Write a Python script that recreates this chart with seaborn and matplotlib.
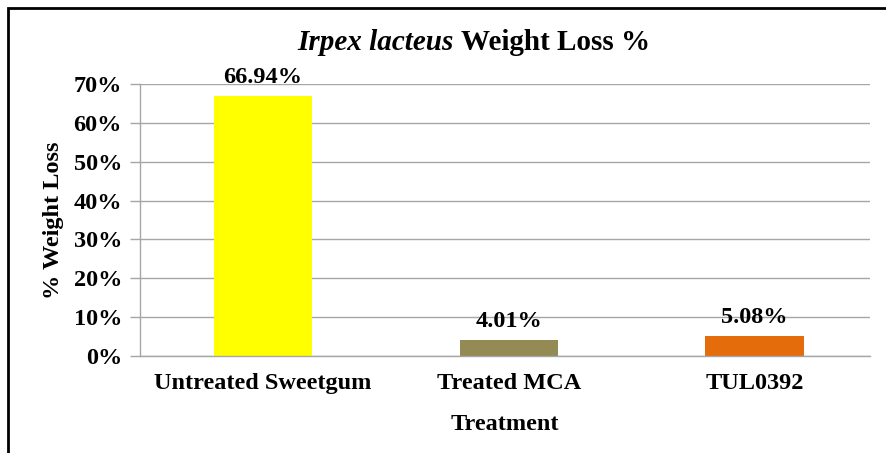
import matplotlib
matplotlib.use("Agg")
import matplotlib.pyplot as plt
from matplotlib.patches import Rectangle
from matplotlib.ticker import PercentFormatter, MultipleLocator
import seaborn as sns
import pandas as pd

# Weight loss of wood samples exposed to Irpex lacteus
treatments = ["Untreated Sweetgum", "Treated MCA", "TUL0392"]
weight_loss = [66.94, 4.01, 5.08]
value_labels = ["66.94%", "4.01%", "5.08%"]
bar_colors = ["#FFFF00", "#948A54", "#E46C0A"]

df = pd.DataFrame({"Treatment": treatments, "Loss": weight_loss})

sns.set_theme(style="white")
plt.rcParams["font.family"] = ["Liberation Serif", "DejaVu Serif"]
plt.rcParams["text.color"] = "black"
plt.rcParams["axes.labelcolor"] = "black"

FS = 17.5
W, H = 886, 453
fig = plt.figure(figsize=(W / 100, H / 100), dpi=100)
ax = fig.add_axes([140 / W, 1 - 356 / H, (870 - 140) / W, (356 - 84) / H])

sns.barplot(data=df, x="Treatment", y="Loss", hue="Treatment",
            palette=bar_colors, width=0.4, legend=False, ax=ax,
            saturation=1, edgecolor="none")

ax.set_ylim(0, 70)
ax.set_xlim(-0.5, 2.47)
ax.yaxis.set_major_locator(MultipleLocator(10))
ax.yaxis.set_major_formatter(PercentFormatter(decimals=0))
ax.grid(axis="y", color="#A6A6A6", linewidth=1)
ax.set_axisbelow(True)
for side in ["top", "right"]:
    ax.spines[side].set_visible(False)
for side in ["left", "bottom"]:
    ax.spines[side].set_color("#A6A6A6")
    ax.spines[side].set_linewidth(1)
ax.tick_params(axis="y", length=7, width=1, color="#A6A6A6", pad=6,
               labelsize=FS, left=True, labelcolor="black")
ax.tick_params(axis="x", length=0, pad=12, labelsize=FS, labelcolor="black")
for lbl in ax.get_xticklabels() + ax.get_yticklabels():
    lbl.set_fontweight("bold")

ax.set_xlabel("Treatment", fontsize=FS, fontweight="bold", labelpad=15)
ax.set_ylabel("% Weight Loss", fontsize=FS, fontweight="bold", labelpad=7)

for i, (v, txt) in enumerate(zip(weight_loss, value_labels)):
    ax.annotate(txt, (i, v), xytext=(0, 6), textcoords="offset points",
                ha="center", va="bottom", fontsize=FS, fontweight="bold")

# Title: bold-italic species name followed by bold text, centred as one line
fig.canvas.draw()
renderer = fig.canvas.get_renderer()
t1 = fig.text(0, 0, "Irpex lacteus ", fontsize=21, fontstyle="italic",
              fontweight="bold")
t2 = fig.text(0, 0, "Weight Loss %", fontsize=21, fontweight="bold")
w1 = t1.get_window_extent(renderer).width
w2 = t2.get_window_extent(renderer).width
cx = 474
x0 = cx - (w1 + w2) / 2
ty = 1 - 50 / H
t1.set_position((x0 / W, ty))
t2.set_position(((x0 + w1) / W, ty))

# Chart frame
fig.patches.append(Rectangle((8 / W, -0.1), 1.2, 1 - 8 / H + 0.1,
                             transform=fig.transFigure, fill=False,
                             edgecolor="black", linewidth=2))

fig.savefig("out.png", dpi=100)
